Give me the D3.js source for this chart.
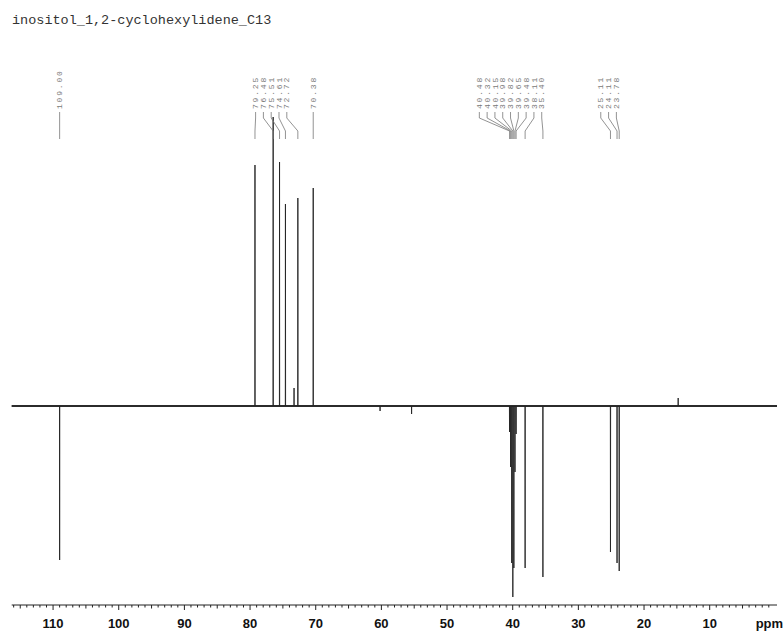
<!DOCTYPE html>
<html>
<head>
<meta charset="utf-8">
<script src="https://cdn.jsdelivr.net/npm/d3@7/dist/d3.min.js"></script>
<style>
  body { margin: 0; background: #fff; }
  svg { display: block; }
  .title { font-family: "Liberation Mono", "DejaVu Sans Mono", monospace; font-size: 13.5px; fill: #333; }
  .plabel { font-family: "Liberation Mono", "DejaVu Sans Mono", monospace; font-size: 8px; letter-spacing: 1.8px; fill: #777; }
  .axis text { font-family: "Liberation Sans", Arial, sans-serif; font-weight: bold; font-size: 13px; fill: #111; }
</style>
</head>
<body>
<div id="chart"></div>
<script>
/* 13C spectrum (DEPT-style, CH2/C inverted) with picked-peak labels */

const TITLE = "inositol_1,2-cyclohexylidene_C13";

// picked peaks: shift (ppm) and signed intensity (arbitrary units)
const PEAK_PPM = [109.00, 79.25, 76.48, 75.51, 74.61, 72.72, 70.38,
                  40.48, 40.32, 40.15, 39.98, 39.82, 39.65, 39.48,
                  38.11, 35.40, 25.11, 24.11, 23.78];
const PEAK_INT = [-154, 241, 289, 244, 202, 208, 218,
                  -26, -61, -157, -191, -162, -66, -28,
                  -162, -171, -146, -157, -165];

// small unlabelled signals seen on the baseline
const MINOR_PPM = [73.30, 60.20, 55.40, 14.80];
const MINOR_INT = [18, -5, -8, 8];

const MAJOR_TICKS = [110, 100, 90, 80, 70, 60, 50, 40, 30, 20, 10];

const W = 783, H = 632;

const svg = d3.select("#chart").append("svg")
    .attr("width", W).attr("height", H);

const x = d3.scaleLinear().domain([116.3, -0.25]).range([11.7, 777]);
const y = d3.scaleLinear().domain([-200, 300]).range([606, 106]);

svg.append("text").attr("class", "title")
    .attr("x", 12).attr("y", 24).text(TITLE);

// spectrum trace: baseline with narrow spikes at every signal
const signals = PEAK_PPM.map((p, i) => ({ ppm: p, v: PEAK_INT[i] }))
    .concat(MINOR_PPM.map((p, i) => ({ ppm: p, v: MINOR_INT[i] })))
    .sort((a, b) => b.ppm - a.ppm);

const w = 0.02;
const trace = [{ ppm: x.domain()[0], v: 0 }];
signals.forEach(s => {
  trace.push({ ppm: s.ppm + w, v: 0 }, { ppm: s.ppm, v: s.v }, { ppm: s.ppm - w, v: 0 });
});
trace.push({ ppm: x.domain()[1], v: 0 });

// the noisy baseline reads as a slightly heavier band
svg.append("line")
    .attr("x1", x(x.domain()[0])).attr("x2", x(x.domain()[1]))
    .attr("y1", y(0)).attr("y2", y(0))
    .attr("stroke", "#333").attr("stroke-width", 2);

svg.append("path")
    .datum(trace)
    .attr("fill", "none")
    .attr("stroke", "#222")
    .attr("stroke-width", 0.9)
    .attr("d", d3.line().x(d => x(d.ppm)).y(d => y(d.v)));

// peak labels: spread overlapping labels into clusters
const GAP = 7.8;
let clusters = PEAK_PPM.map((p, i) => ({ idx: [i], centre: x(p) }));
let merged = true;
while (merged) {
  merged = false;
  for (let k = 0; k < clusters.length - 1; k++) {
    const a = clusters[k], b = clusters[k + 1];
    const aRight = a.centre + (a.idx.length - 1) * GAP / 2;
    const bLeft = b.centre - (b.idx.length - 1) * GAP / 2;
    if (bLeft - aRight < 2.4 * GAP) {
      const idx = a.idx.concat(b.idx);
      const centre = d3.mean(idx, i => x(PEAK_PPM[i]));
      clusters.splice(k, 2, { idx, centre });
      merged = true;
      break;
    }
  }
}
const labelX = [];
clusters.forEach(c => {
  // multi-label clusters sit a little left of their peaks in the original
  const shift = c.idx.length > 1 ? -7 : 0;
  c.idx.forEach((i, j) => {
    labelX[i] = c.centre + shift + (j - (c.idx.length - 1) / 2) * GAP;
  });
});

const labels = svg.append("g");
PEAK_PPM.forEach((p, i) => {
  const lx = labelX[i], px = x(p);
  labels.append("path")
      .attr("fill", "none").attr("stroke", "#777").attr("stroke-width", 0.8)
      .attr("d", `M${lx},112V118L${px},131V139`);
  labels.append("text").attr("class", "plabel")
      .attr("transform", `translate(${lx + 2.7},109) rotate(-90)`)
      .text(p.toFixed(2));
});

// ppm axis: majors every 10, minors every 1
const axisY = 605;
const axis = svg.append("g").attr("class", "axis");
axis.append("line")
    .attr("x1", x(x.domain()[0])).attr("x2", x(x.domain()[1]))
    .attr("y1", axisY).attr("y2", axisY)
    .attr("stroke", "#222");
const minor = d3.range(116, 0, -1);
axis.selectAll(".minor").data(minor).join("line")
    .attr("class", "minor")
    .attr("x1", d => x(d)).attr("x2", d => x(d))
    .attr("y1", axisY).attr("y2", d => axisY + (d % 10 === 0 ? 5 : d % 5 === 0 ? 3.5 : 2.5))
    .attr("stroke", "#222");
axis.selectAll(".tl").data(MAJOR_TICKS).join("text")
    .attr("class", "tl")
    .attr("x", d => x(d)).attr("y", 628)
    .attr("text-anchor", "middle")
    .text(d => d);
axis.append("text")
    .attr("x", x(0) - 6).attr("y", 628)
    .attr("text-anchor", "middle")
    .text("ppm");
</script>
</body>
</html>
